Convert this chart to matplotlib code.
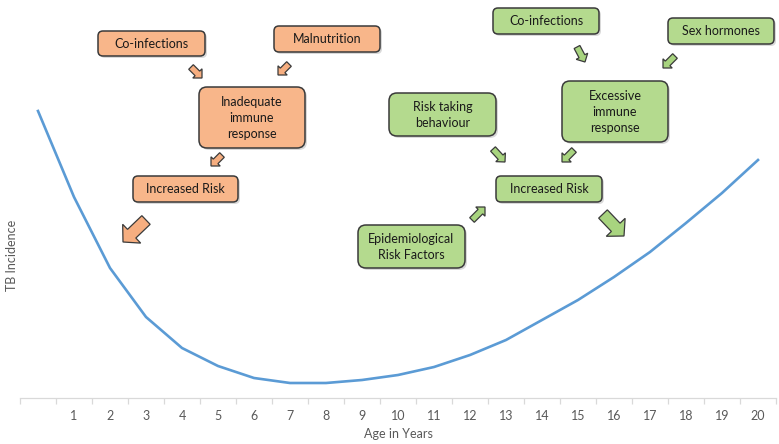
import matplotlib
matplotlib.use("Agg")
import matplotlib.pyplot as plt
import numpy as np
from matplotlib.patches import FancyBboxPatch, FancyArrow

# ---------------- data ----------------
categories = [""] + [str(i) for i in range(1, 21)]
incidence = [287, 201, 130, 81, 50, 32, 20, 15, 15, 18, 23,
             31, 43, 58, 78, 98, 121, 146, 175, 205, 238]
x_label = "Age in Years"
y_label = "TB Incidence"

orange_texts = ["Co-infections", "Malnutrition", "Inadequate\nimmune\nresponse", "Increased Risk"]
green_texts = ["Co-infections", "Sex hormones", "Risk taking\nbehaviour",
               "Excessive\nimmune\nresponse", "Increased Risk", "Epidemiological\nRisk Factors"]

# ---------------- layout (pixel coords: x0, y0, x1, y1) ----------------
orange_boxes = [(98, 31, 205, 56), (274, 26, 380, 52), (199, 87, 305, 148), (133, 176, 238, 202)]
green_boxes = [(493, 8, 599, 34), (668, 18, 774, 44), (389, 93, 496, 136),
               (562, 81, 668, 142), (496, 176, 602, 202), (358, 225, 465, 268)]
orange_arrows = [((191, 67), (202, 78), 's'), ((289, 64), (278, 75), 's'),
                 ((222, 155), (211, 166), 's'), ((146, 220), (123, 242), 'l')]
green_arrows = [((577, 47), (585, 62), 's'), ((675, 56), (663, 68), 's'),
                ((493, 149), (505, 162), 's'), ((574, 150), (562, 162), 's'),
                ((472, 220), (485, 207), 's'), ((603, 214), (624, 236), 'l')]

W, H = 779, 444
fig = plt.figure(figsize=(W / 100, H / 100), dpi=100)
fig.patch.set_facecolor("white")

# ---------------- chart ----------------
ax = fig.add_axes([20 / W, 46 / H, 756 / W, 398 / H])
xs = np.arange(len(categories))
ax.plot(xs, incidence, color="#5B9BD5", lw=1.9, solid_joinstyle="round")
ax.set_xlim(-0.5, len(categories) - 0.5)
ax.set_ylim(0, 398)
for s in ["left", "right", "top"]:
    ax.spines[s].set_visible(False)
ax.spines["bottom"].set_color("#D9D9D9")
ax.spines["bottom"].set_linewidth(0.9)
ax.set_yticks([])
ax.set_xticks(xs)
ax.set_xticklabels(categories, color="#595959", fontsize=9, family="Lato")
ax.tick_params(axis="x", which="major", length=0, pad=8.5)
ax.set_xticks(np.arange(-0.5, len(categories), 1), minor=True)
ax.tick_params(axis="x", which="minor", length=4.5, color="#D9D9D9", width=0.9)
ax.patch.set_alpha(0)

# ---------------- overlay (pixel coordinates) ----------------
ov = fig.add_axes([0, 0, 1, 1])
ov.set_xlim(0, W)
ov.set_ylim(H, 0)
ov.axis("off")
ov.patch.set_alpha(0)

ov.text(398, 434, x_label, ha="center", va="center", color="#595959", fontsize=9, family="Lato")
ov.text(12, 255, y_label, ha="center", va="center", rotation=90, color="#595959", fontsize=9, family="Lato")


def draw_box(b, text, fc):
    x0, y0, x1, y1 = b
    w, h = x1 - x0, y1 - y0
    r = 5 if h < 35 else 8
    sh = FancyBboxPatch((x0 + 2, y0 + 2), w, h, boxstyle=f"round,pad=0,rounding_size={r}",
                        fc="#000000", ec="none", alpha=0.15, zorder=2)
    ov.add_patch(sh)
    p = FancyBboxPatch((x0, y0), w, h, boxstyle=f"round,pad=0,rounding_size={r}",
                       fc=fc, ec="#3A3A3A", lw=1.1, zorder=3)
    ov.add_patch(p)
    ov.text((x0 + x1) / 2, (y0 + y1) / 2, text, ha="center", va="center", fontsize=9,
            family="Lato", color="#1A1A1A", linespacing=1.4, zorder=4)


def draw_arrow(a, fc):
    (x0, y0), (x1, y1), size = a
    if size == 's':
        w, hw, hl = 6.5, 13, 6.5
    else:
        w, hw, hl = 12, 26, 12
    ar = FancyArrow(x0, y0, x1 - x0, y1 - y0, width=w, head_width=hw, head_length=hl,
                    length_includes_head=True, fc=fc, ec="#3A3A3A", lw=0.9, zorder=3)
    ov.add_patch(ar)


for b, t in zip(orange_boxes, orange_texts):
    draw_box(b, t, "#F8B68A")
for b, t in zip(green_boxes, green_texts):
    draw_box(b, t, "#B4DA8E")
for a in orange_arrows:
    draw_arrow(a, "#F6AE80")
for a in green_arrows:
    draw_arrow(a, "#A8D47F")

fig.savefig("out.png", dpi=100)
